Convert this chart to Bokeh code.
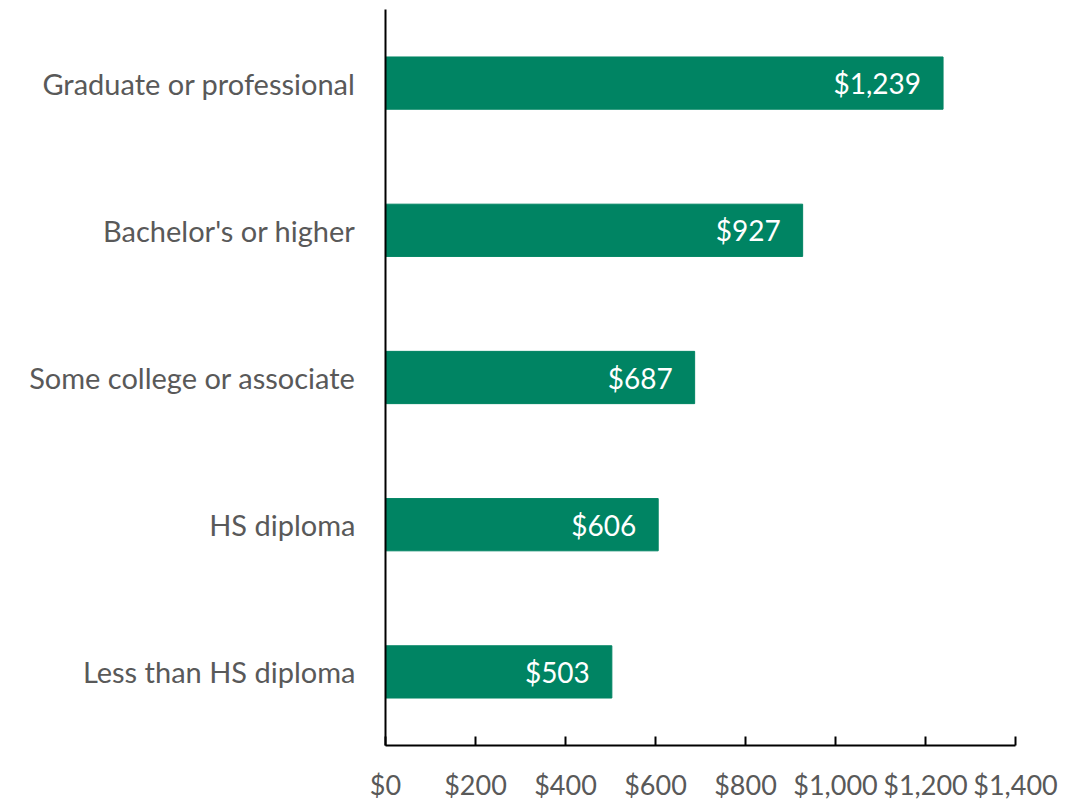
from bokeh.plotting import figure
from bokeh.models import ColumnDataSource, FixedTicker, NumeralTickFormatter, Range1d, FactorRange
from bokeh.core.properties import value
from bokeh.embed import file_html
from bokeh.resources import INLINE

categories = ["Less than HS diploma", "HS diploma", "Some college or associate",
              "Bachelor's or higher", "Graduate or professional"]
earnings = [503, 606, 687, 927, 1239]
labels = ["$503", "$606", "$687", "$927", "$1,239"]
x_ticks = [0, 200, 400, 600, 800, 1000, 1200, 1400]

FONT = "Lato"
src = ColumnDataSource(dict(cat=categories, val=earnings, lab=labels))

p = figure(y_range=FactorRange(*categories, range_padding=0), x_range=Range1d(0, 1400),
           frame_width=630, frame_height=736, output_backend="svg", toolbar_location=None,
           min_border_left=385, min_border_top=9, min_border_right=50, min_border_bottom=10)
p.hbar(y="cat", right="val", left=0, height=0.355, source=src, color="#008463")
p.text(x="val", y="cat", text="lab", source=src, x_offset=-22, text_align="right",
       text_baseline="middle", text_color="white", text_font=value(FONT), text_font_size="28px")

p.xaxis.ticker = FixedTicker(ticks=x_ticks)
p.xaxis.formatter = NumeralTickFormatter(format="$0,0")
p.xaxis.major_tick_in = 9
p.xaxis.major_tick_out = 0
p.xaxis.minor_tick_line_color = None
p.xaxis.axis_line_width = 2
p.xaxis.major_tick_line_width = 2
p.xaxis.axis_line_color = "#000000"
p.xaxis.major_tick_line_color = "#000000"
p.xaxis.major_label_standoff = 22
p.xaxis.major_label_text_font = FONT
p.xaxis.major_label_text_font_size = "27px"
p.xaxis.major_label_text_color = "#595959"

p.yaxis.major_tick_line_color = None
p.yaxis.minor_tick_line_color = None
p.yaxis.axis_line_width = 2
p.yaxis.axis_line_color = "#000000"
p.yaxis.major_label_standoff = 24
p.yaxis.major_label_text_font = FONT
p.yaxis.major_label_text_font_size = "29px"
p.yaxis.major_label_text_color = "#595959"

p.xgrid.grid_line_color = None
p.ygrid.grid_line_color = None
p.outline_line_color = None

open("out.html", "w").write(file_html(p, INLINE))
